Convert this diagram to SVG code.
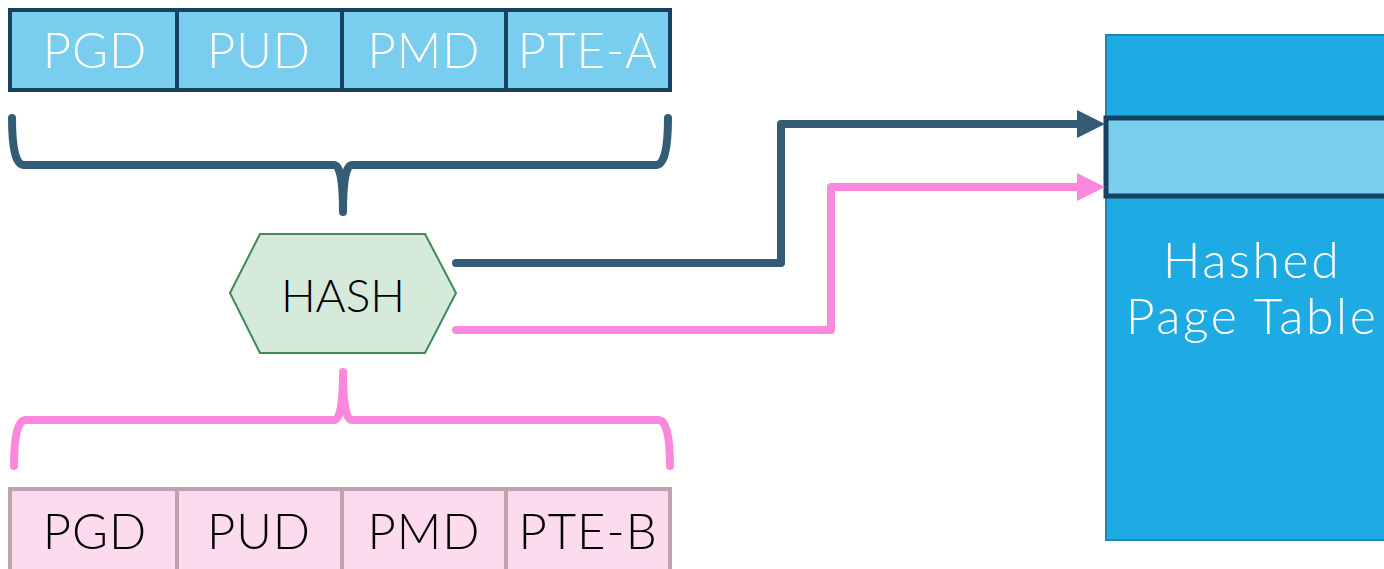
<svg xmlns="http://www.w3.org/2000/svg" width="1384" height="569" viewBox="0 0 1384 569">
  <style>
    .lbl { font-family: Lato, "Liberation Sans", sans-serif; font-weight: 300; text-anchor: middle; }
    .cell-text { font-size: 49px; letter-spacing: 1px; }
    .table-text { font-size: 50px; letter-spacing: 2.5px; }
    .cellA { fill: #79cdef; stroke: #17425f; stroke-width: 4; }
    .cellB { fill: #fcdbee; stroke: #bea3ae; stroke-width: 4; }
    .white { fill: #ffffff; }
    .black { fill: #000000; }
    .brace { fill: none; stroke-width: 8; stroke-linecap: round; stroke-linejoin: round; }
    .wire { fill: none; stroke-width: 8; stroke-linecap: round; stroke-linejoin: round; }
  </style>
  <defs>
    <marker id="arrDark" viewBox="0 0 28 28" refX="5" refY="14" markerUnits="userSpaceOnUse" markerWidth="28" markerHeight="28" orient="auto">
      <path d="M0,0 L28,14 L0,28 Z" fill="#345c75"/>
    </marker>
    <marker id="arrPink" viewBox="0 0 28 28" refX="5" refY="14" markerUnits="userSpaceOnUse" markerWidth="28" markerHeight="28" orient="auto">
      <path d="M0,0 L28,14 L0,28 Z" fill="#fc88de"/>
    </marker>
  </defs>

  <rect width="1384" height="569" fill="#ffffff"/>

  <!-- Hashed page table -->
  <g id="hashed-page-table">
    <rect x="1106" y="35" width="290" height="505" fill="#1eaae2" stroke="#1b86b3" stroke-width="2"/>
    <rect x="1106" y="118" width="290" height="78" fill="#79cdef" stroke="#17425f" stroke-width="5"/>
    <text class="lbl white table-text" x="1252" y="278">Hashed</text>
    <text class="lbl white table-text" x="1252" y="334">Page Table</text>
  </g>

  <!-- Virtual address A -->
  <g id="address-a">
    <rect class="cellA" x="10" y="10" width="167" height="80"/>
    <rect class="cellA" x="177" y="10" width="165" height="80"/>
    <rect class="cellA" x="342" y="10" width="164" height="80"/>
    <rect class="cellA" x="506" y="10" width="164" height="80"/>
    <text class="lbl white cell-text" x="95" y="68">PGD</text>
    <text class="lbl white cell-text" x="259" y="68">PUD</text>
    <text class="lbl white cell-text" x="424" y="68">PMD</text>
    <text class="lbl white cell-text" x="588" y="68">PTE-A</text>
  </g>

  <!-- Virtual address B -->
  <g id="address-b">
    <rect class="cellB" x="10" y="489" width="167" height="84"/>
    <rect class="cellB" x="177" y="489" width="165" height="84"/>
    <rect class="cellB" x="342" y="489" width="164" height="84"/>
    <rect class="cellB" x="506" y="489" width="164" height="84"/>
    <text class="lbl black cell-text" x="95" y="549">PGD</text>
    <text class="lbl black cell-text" x="259" y="549">PUD</text>
    <text class="lbl black cell-text" x="424" y="549">PMD</text>
    <text class="lbl black cell-text" x="588" y="549">PTE-B</text>
  </g>

  <!-- Hash function -->
  <g id="hash">
    <polygon points="230,293 260,234 425,234 456,293 425,353 260,353" fill="#d5eadb" stroke="#3f8a55" stroke-width="2"/>
    <text class="lbl black" x="343" y="312" font-size="46">HASH</text>
  </g>

  <!-- Connectors -->
  <g id="connectors">
    <path class="brace" stroke="#345c75" d="M12,118 Q12,165 24,165 L334,165 Q343,165 343,212 M668,118 Q668,165 656,165 L352,165 Q343,165 343,212"/>
    <path class="brace" stroke="#fc88de" d="M14,466 Q14,420 26,420 L334,420 Q343,420 343,372 M670,466 Q670,420 658,420 L352,420 Q343,420 343,372"/>
    <path class="wire" stroke="#345c75" d="M456,263 L781,263 L781,124 L1082,124" marker-end="url(#arrDark)"/>
    <path class="wire" stroke="#fc88de" d="M456,330 L831,330 L831,187 L1082,187" marker-end="url(#arrPink)"/>
  </g>
</svg>
